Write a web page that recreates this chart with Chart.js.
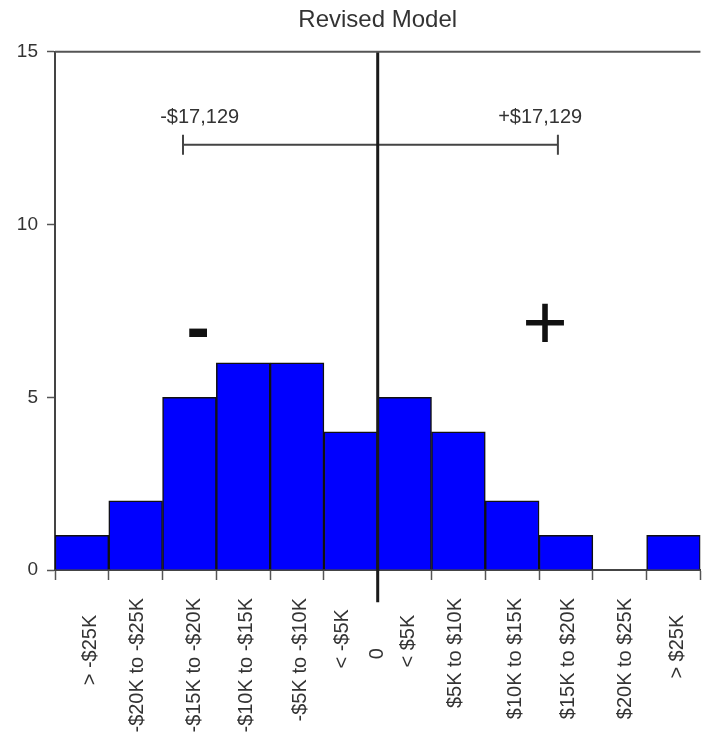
<!DOCTYPE html>
<html>
<head>
<meta charset="utf-8">
<script src="https://cdn.jsdelivr.net/npm/chart.js@4/dist/chart.umd.min.js"></script>
<style>
  html, body { margin: 0; padding: 0; background: #fff; overflow: hidden; }
  #wrap { width: 720px; height: 735px; }
</style>
</head>
<body>
<div id="wrap"><canvas id="grafico"></canvas></div>
<script>
// Dados do histograma (12 faixas, eixo x em unidades de faixa 0..12)
const binLabels = ['> -$25K', '-$20K to -$25K', '-$15K to -$20K', '-$10K to -$15K', '-$5K to -$10K', '< -$5K',
                   '0', '< $5K', '$5K to $10K', '$10K to $15K', '$15K to $20K', '$20K to $25K', '> $25K'];
const labelPos = [0.66, 1.54, 2.59, 3.56, 4.57, 5.34, 5.99, 6.58, 7.44, 8.56, 9.54, 10.6, 11.57];
const binCenters = [0.5, 1.5, 2.5, 3.5, 4.5, 5.5, 6.5, 7.5, 8.5, 9.5, 10.5, 11.5];
const counts = [1, 2, 5, 6, 6, 4, 5, 4, 2, 1, 0, 1];
const binEdges = [0, 1, 2, 3, 4, 5, 6, 7, 8, 9, 10, 11, 12];
const yTicks = [0, 5, 10, 15];

// Linha do zero e faixa de +/- $17,129
const zeroX = 6;
const zeroY = [15, -0.93];
const rangeEnds = [2.38, 9.35];
const rangeY = 12.31;
const rangeCap = [12.02, 12.6];
const rangeLabels = ['-$17,129', '+$17,129'];
const rangeLabelX = [2.69, 9.02];
const rangeLabelY = 13.09;
const signLabels = ['-', '+'];
const signX = [2.66, 9.11];
const signY = [6.9, 7.01];

Chart.defaults.font.family = '"Liberation Sans", Arial, sans-serif';
Chart.defaults.color = '#333';

// espaços no fim dos rótulos curtos para descê-los (texto girado)
const labelIndent = [3, 0, 0, 0, 0, 2, 9, 3, 0, 0, 0, 0, 3];

// Plugin simples: borda superior e textos de anotação
const anotacoes = {
  id: 'anotacoes',
  afterDraw(chart) {
    const { ctx, chartArea, scales: { x, y } } = chart;
    ctx.save();
    ctx.strokeStyle = '#555';
    ctx.lineWidth = 2;
    ctx.beginPath();
    ctx.moveTo(chartArea.left, chartArea.top);
    ctx.lineTo(chartArea.right, chartArea.top);
    ctx.stroke();

    ctx.fillStyle = '#333';
    ctx.textAlign = 'center';
    ctx.textBaseline = 'middle';
    ctx.font = '20px "Liberation Sans", Arial, sans-serif';
    rangeLabels.forEach((t, i) => {
      ctx.fillText(t, x.getPixelForValue(rangeLabelX[i]), y.getPixelForValue(rangeLabelY));
    });

    ctx.fillStyle = '#111';
    ctx.font = 'bold 70px "Liberation Sans", Arial, sans-serif';
    ctx.fillText(signLabels[0], x.getPixelForValue(signX[0]), y.getPixelForValue(signY[0]));
    ctx.font = '78px "Liberation Sans", Arial, sans-serif';
    ctx.fillText(signLabels[1], x.getPixelForValue(signX[1]), y.getPixelForValue(signY[1]));
    ctx.restore();
  }
};

const ctx = document.getElementById('grafico').getContext('2d');
new Chart(ctx, {
  type: 'bar',
  data: {
    datasets: [
      {
        type: 'line',
        data: [{ x: zeroX, y: zeroY[0] }, { x: zeroX, y: zeroY[1] }],
        borderColor: '#1a1a1a',
        borderWidth: 3,
        pointRadius: 0,
        clip: false,
        order: 0
      },
      {
        type: 'line',
        data: [
          { x: rangeEnds[0], y: rangeCap[1] }, { x: rangeEnds[0], y: rangeCap[0] }, { x: rangeEnds[0], y: null },
          { x: rangeEnds[0], y: rangeY }, { x: rangeEnds[1], y: rangeY }, { x: rangeEnds[1], y: null },
          { x: rangeEnds[1], y: rangeCap[1] }, { x: rangeEnds[1], y: rangeCap[0] }
        ],
        borderColor: '#444',
        borderWidth: 2,
        pointRadius: 0,
        spanGaps: false,
        order: 1
      },
      {
        xAxisID: 'xb',
        data: binCenters.map((c, i) => ({ x: c, y: counts[i] })),
        backgroundColor: '#0000ff',
        borderColor: '#111',
        borderWidth: 1.5,
        barPercentage: 1,
        categoryPercentage: 1,
        order: 2
      }
    ]
  },
  options: {
    responsive: true,
    maintainAspectRatio: false,
    animation: false,
    layout: { padding: { left: 0, right: 9, top: 0, bottom: 0 } },
    plugins: {
      legend: { display: false },
      tooltip: { enabled: false },
      title: {
        display: true,
        fullSize: false,
        text: 'Revised Model',
        color: '#333',
        font: { size: 24, weight: 'normal' },
        padding: { top: 6, bottom: 17 }
      }
    },
    scales: {
      xb: {
        type: 'linear',
        display: false,
        min: 0,
        max: 12,
        offset: false,
        afterBuildTicks: s => { s.ticks = binEdges.map(v => ({ value: v })); }
      },
      x: {
        type: 'linear',
        min: 0,
        max: 12,
        offset: false,
        grid: {
          offset: false,
          drawOnChartArea: false,
          tickLength: 10,
          tickWidth: 1.5,
          tickColor: c => (c.tick && binEdges.includes(c.tick.value)) ? '#555' : 'rgba(0,0,0,0)'
        },
        border: { color: '#444', width: 2 },
        afterBuildTicks: s => {
          s.ticks = binEdges.map(v => ({ value: v })).concat(labelPos.map(v => ({ value: v })));
        },
        afterFit: s => { s.height = 165; },
        ticks: {
          autoSkip: false,
          minRotation: 90,
          maxRotation: 90,
          padding: 18,
          color: '#333',
          font: { size: 20 },
          callback: v => {
            const i = labelPos.indexOf(v);
            return i >= 0 ? binLabels[i] + ' '.repeat(labelIndent[i]) : '';
          }
        }
      },
      y: {
        min: 0,
        max: 15,
        afterBuildTicks: s => { s.ticks = yTicks.map(v => ({ value: v })); },
        afterFit: s => { s.width = 55; },
        grid: { drawOnChartArea: false, tickLength: 8, tickColor: '#555', tickWidth: 1.5 },
        border: { color: '#444', width: 2 },
        ticks: { padding: 9, color: '#333', font: { size: 19 } }
      }
    }
  },
  plugins: [anotacoes]
});
</script>
</body>
</html>
